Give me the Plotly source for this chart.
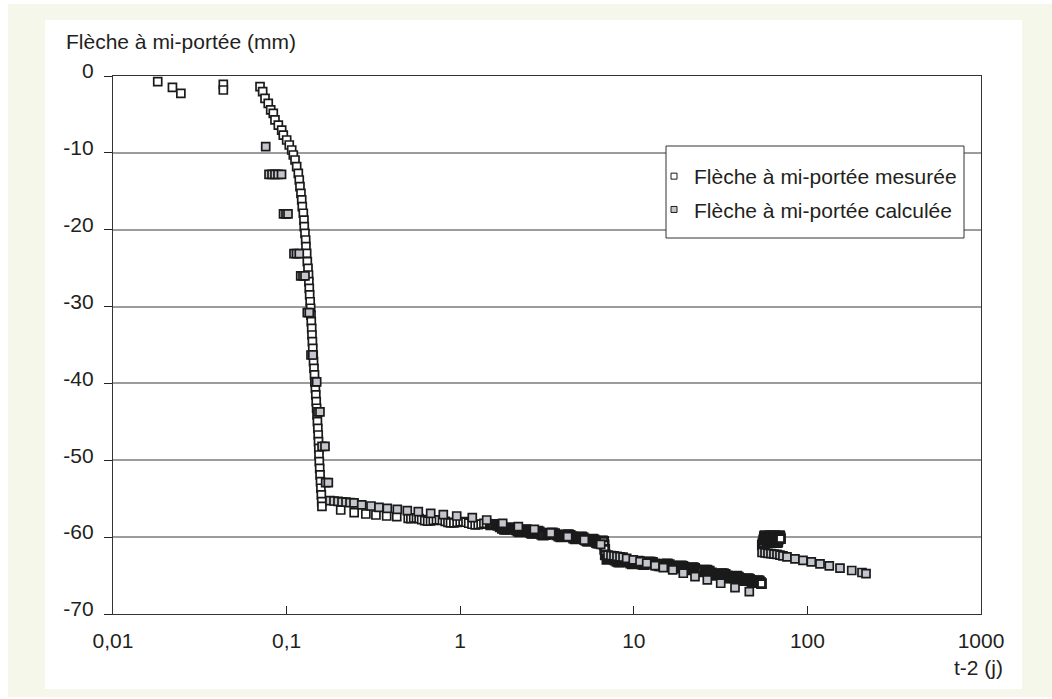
import plotly.graph_objects as go

# ---------------- data ----------------
# x = t-2 (days), y = mid-span deflection (mm)

# measured: first scattered readings
meas_early_x = [0.0181, 0.0220, 0.0246, 0.0432, 0.0432]
meas_early_y = [-0.74, -1.47, -2.25, -1.08, -1.82]

# measured: start of the fast drop
meas_curve_x = [0.0703, 0.0728, 0.0751, 0.0784, 0.0810, 0.0838, 0.0857, 0.0896, 0.0937, 0.0957,
                0.1001, 0.1036, 0.1070, 0.1093, 0.1118, 0.1143, 0.1168, 0.1183, 0.1194, 0.1210,
                0.1222, 0.1231, 0.1248, 0.1259, 0.1264, 0.1276, 0.1288, 0.1293, 0.1305, 0.1316, 0.1328]
meas_curve_y = [-1.39, -2.04, -2.9, -3.55, -4.42, -4.85, -5.72, -6.38, -7.03, -7.68,
                -8.33, -8.98, -9.63, -10.28, -10.93, -11.8, -12.66, -13.53, -14.4, -15.26,
                -16.13, -17.0, -17.86, -18.74, -19.6, -20.47, -21.34, -22.21, -23.07, -24.16, -25.02]

# measured: near-vertical part of the drop
meas_drop_x = [0.1337, 0.1344, 0.1351, 0.1358, 0.1367, 0.1376, 0.1382, 0.1387, 0.1395, 0.1400,
               0.1408, 0.1415, 0.1423, 0.1429, 0.1438, 0.1448, 0.1457, 0.1465, 0.1473, 0.1481,
               0.1489, 0.1497, 0.1505, 0.1513, 0.1521, 0.1527, 0.1533, 0.1537, 0.1543, 0.1551,
               0.1559, 0.1568, 0.1576, 0.1585, 0.1593, 0.1598]
meas_drop_y = [-25.89, -26.76, -27.62, -28.49, -29.37, -30.22, -31.1, -31.97, -32.83, -33.7,
               -34.57, -35.43, -36.3, -37.17, -38.03, -38.9, -39.77, -40.63, -41.5, -42.38,
               -43.23, -44.11, -44.98, -45.84, -46.71, -47.58, -48.44, -49.31, -50.18, -51.04,
               -51.91, -52.78, -53.64, -54.51, -55.39, -56.0]

# measured: creep plateau (isolated squares)
meas_flat_x = [0.205, 0.245, 0.286, 0.327, 0.377, 0.431, 0.502]
meas_flat_y = [-56.47, -56.8, -56.99, -57.12, -57.25, -57.33, -57.55]

# measured: readings between 0.5 and 1.5 days
meas_mid_x = [0.52, 0.54, 0.56, 0.58, 0.6, 0.625, 0.65, 0.675, 0.7, 0.73,
              0.76, 0.79, 0.82, 0.85, 0.88, 0.92, 0.96, 1.0, 1.04, 1.08,
              1.12, 1.17, 1.22, 1.27, 1.32, 1.37, 1.42, 1.48]
meas_mid_y = [-57.60, -57.53, -57.51, -57.59, -57.72, -57.85, -57.92, -57.90, -57.83, -57.76,
              -57.75, -57.82, -57.95, -58.08, -58.15, -58.14, -58.07, -58.00, -57.98, -58.06,
              -58.19, -58.32, -58.40, -58.38, -58.30, -58.22, -58.19, -58.26]

# measured: dense readings 1.5 - 6.85 days (daily oscillation -> thick dark band)
meas_a_x = [1.50, 1.55, 1.60, 1.65, 1.70, 1.75, 1.80, 1.85, 1.90, 1.95,
            2.00, 2.05, 2.10, 2.15, 2.20, 2.25, 2.30, 2.35, 2.40, 2.45,
            2.50, 2.55, 2.60, 2.65, 2.70, 2.75, 2.80, 2.85, 2.90, 2.95,
            3.00, 3.1, 3.2, 3.3, 3.4, 3.5, 3.6, 3.7, 3.8, 3.9,
            4.0, 4.1, 4.2, 4.3, 4.4, 4.5, 4.6, 4.7, 4.8, 4.9,
            5.0, 5.1, 5.2, 5.3, 5.4, 5.5, 5.6, 5.7, 5.8, 5.9,
            6.0, 6.1, 6.2, 6.3, 6.4, 6.5, 6.6, 6.7, 6.75, 6.8,
            6.85]
meas_a_y = [-58.40, -58.33, -58.35, -58.46, -58.65, -58.84, -58.97, -58.98, -58.90, -58.80,
            -58.79, -58.89, -59.06, -59.23, -59.32, -59.29, -59.17, -59.06, -59.02, -59.11,
            -59.27, -59.44, -59.52, -59.49, -59.37, -59.26, -59.22, -59.31, -59.47, -59.64,
            -59.72, -59.68, -59.58, -59.47, -59.44, -59.54, -59.71, -59.87, -59.96, -59.93,
            -59.81, -59.70, -59.67, -59.77, -59.95, -60.12, -60.22, -60.20, -60.09, -59.99,
            -59.97, -60.07, -60.25, -60.43, -60.53, -60.50, -60.40, -60.29, -60.27, -60.36,
            -60.53, -60.70, -60.79, -60.76, -60.64, -60.52, -60.48, -60.56, -61.00, -61.60,
            -62.30]

# measured: dense readings 7 - 24 days
meas_b_x = [7.0, 7.2, 7.4, 7.6, 7.8, 8.0, 8.2, 8.4, 8.6, 8.8,
            9.0, 9.2, 9.4, 9.6, 9.8, 10.0, 10.2, 10.4, 10.6, 10.8,
            11.0, 11.2, 11.4, 11.6, 11.8, 12.0, 12.4, 12.8, 13.2, 13.6,
            14.0, 14.4, 14.8, 15.2, 15.6, 16.0, 16.4, 16.8, 17.2, 17.6,
            18.0, 18.4, 18.8, 19.2, 19.6, 20.0, 20.4, 20.8, 21.2, 21.6,
            22.0, 22.4, 22.8, 23.2, 23.6, 24.0]
meas_b_y = [-62.90, -62.79, -62.75, -62.84, -63.00, -63.16, -63.25, -63.23, -63.12, -63.01,
            -62.98, -63.06, -63.22, -63.38, -63.46, -63.42, -63.29, -63.17, -63.12, -63.20,
            -63.35, -63.50, -63.57, -63.52, -63.39, -63.25, -63.22, -63.30, -63.47, -63.65,
            -63.75, -63.73, -63.62, -63.52, -63.49, -63.58, -63.75, -63.92, -64.01, -63.98,
            -63.87, -63.76, -63.73, -63.82, -63.99, -64.16, -64.25, -64.22, -64.11, -64.00,
            -63.98, -64.07, -64.25, -64.42, -64.51, -64.48]

# measured: dense readings 24.8 - 54.4 days
meas_c_x = [24.8, 25.6, 26.4, 27.2, 28.0, 28.8, 29.6, 30.4, 31.2, 32.0,
            32.8, 33.6, 34.4, 35.2, 36.0, 36.8, 37.6, 38.4, 39.2, 40.0,
            40.8, 41.6, 42.4, 43.2, 44.0, 44.8, 45.6, 46.4, 47.2, 48.0,
            48.8, 49.6, 50.4, 51.2, 52.0, 52.8, 53.6, 54.4]
meas_c_y = [-64.40, -64.31, -64.31, -64.43, -64.64, -64.83, -64.94, -64.93, -64.84, -64.75,
            -64.75, -64.85, -65.03, -65.22, -65.32, -65.30, -65.20, -65.11, -65.09, -65.19,
            -65.37, -65.55, -65.65, -65.63, -65.53, -65.43, -65.40, -65.49, -65.67, -65.84,
            -65.93, -65.90, -65.79, -65.68, -65.65, -65.73, -65.90, -66.06]

# measured: after unloading (55 - 70 days)
meas_unl_x = [55.0, 55.5, 56.0, 56.5, 57.0, 57.5, 58.0, 58.5, 59.0, 59.5,
              60.0, 60.5, 61.0, 61.5, 62.0, 62.5, 63.0, 63.5, 64.0, 64.5,
              65.0, 65.5, 66.0, 66.5, 67.0, 67.5, 68.0, 68.5, 69.0, 69.5, 70.0]
meas_unl_y = [-61.00, -60.75, -60.35, -59.93, -59.80, -59.93, -60.25, -60.57, -60.70, -60.57,
              -60.25, -59.93, -59.80, -59.93, -60.25, -60.57, -60.70, -60.57, -60.25, -59.93,
              -59.80, -59.93, -60.25, -60.57, -60.70, -60.57, -60.25, -59.93, -59.80, -59.93, -60.20]

# computed deflection
calc_x = [0.0758,
          0.0792, 0.0824, 0.0857, 0.0892, 0.0935,
          0.0960, 0.0992, 0.1019,
          0.1103, 0.1140, 0.1183,
          0.1206, 0.1243, 0.1276,
          0.1316, 0.1351,
          0.1382, 0.1416,
          0.1457, 0.1490,
          0.1517, 0.1557,
          0.1600, 0.1664,
          0.1679, 0.1739,
          0.1778, 0.1875, 0.1977, 0.2085, 0.2199, 0.2319, 0.2445,
          0.2708, 0.3063, 0.3405, 0.3803, 0.4342, 0.4958, 0.5736, 0.6762, 0.7992, 0.9546,
          1.174, 1.421, 1.757, 2.162, 2.673, 3.322, 4.161, 5.187, 6.447,
          7.10, 7.39, 7.69, 8.00, 8.33, 8.67, 9.10, 9.93, 10.86, 11.87,
          13.25, 14.79, 16.76, 19.28, 22.52, 26.51, 31.67, 38.28, 46.27,
          54.8, 57.0, 59.3, 61.7, 64.2, 66.8, 69.5, 72.3, 76.3, 84.8,
          94.3, 105.3, 118.2, 133.7, 154.1, 180.0, 206.3, 217.6]
calc_y = [-9.2,
          -12.8, -12.8, -12.8, -12.8, -12.8,
          -17.95, -17.95, -17.95,
          -23.1, -23.1, -23.1,
          -26.0, -26.0, -26.0,
          -30.8, -30.8,
          -36.3, -36.3,
          -39.8, -39.8,
          -43.7, -43.7,
          -48.2, -48.2,
          -52.9, -52.9,
          -55.25, -55.3, -55.35, -55.4, -55.45, -55.5, -55.55,
          -55.81, -55.95, -56.12, -56.25, -56.38, -56.56, -56.69, -56.9, -57.08, -57.25,
          -57.47, -57.77, -58.2, -58.64, -58.98, -59.46, -59.94, -60.37, -60.93,
          -62.35, -62.4, -62.45, -62.5, -62.55, -62.6, -62.75, -62.97, -63.19, -63.4,
          -63.71, -63.97, -64.27, -64.7, -65.14, -65.57, -66.0, -66.58, -67.1,
          -62.0, -62.05, -62.1, -62.15, -62.2, -62.25, -62.35, -62.45, -62.58, -62.82,
          -63.02, -63.23, -63.47, -63.73, -64.03, -64.34, -64.6, -64.75]

x_tickvals = [0.01, 0.1, 1, 10, 100, 1000]
x_ticktext = ["0,01", "0,1", "1", "10", "100", "1000"]
y_tickvals = [0, -10, -20, -30, -40, -50, -60, -70]
y_ticktext = ["0", "-10", "-20", "-30", "-40", "-50", "-60", "-70"]

name_meas = "Flèche à mi-portée mesurée"
name_calc = "Flèche à mi-portée calculée"
y_title = "Flèche à mi-portée (mm)"
x_title = "t-2 (j)"

# ---------------- figure ----------------
# sparse readings (individual squares visible) and dense readings (merge into a dark band)
sparse_x = meas_early_x + meas_curve_x + meas_drop_x + meas_flat_x + meas_mid_x
sparse_y = meas_early_y + meas_curve_y + meas_drop_y + meas_flat_y + meas_mid_y
dense_x = meas_a_x + meas_b_x + meas_c_x + meas_unl_x
dense_y = meas_a_y + meas_b_y + meas_c_y + meas_unl_y
assert len(sparse_x) == len(sparse_y)
assert len(dense_x) == len(dense_y)
assert len(calc_x) == len(calc_y)

W, H = 1052, 699
PL, PR, PT, PB = 113, 981, 76, 614   # plot area in pixels


def fx(px):
    return (px - PL) / (PR - PL)


def fy(py):
    return (PB - py) / (PB - PT)


FONT = "Liberation Sans, Arial, Helvetica, sans-serif"
TXT = "#231f20"
EDGE = "#1a1a1a"
GREY = "#c3c6cc"
FS = 21

fig = go.Figure()
fig.add_trace(go.Scatter(
    x=sparse_x, y=sparse_y, mode="markers", name=name_meas, showlegend=False,
    marker=dict(symbol="square", size=8, color="white", line=dict(color=EDGE, width=1.7))))
fig.add_trace(go.Scatter(
    x=dense_x, y=dense_y, mode="markers", name=name_meas, showlegend=False,
    marker=dict(symbol="square", size=8, color="white", line=dict(color=EDGE, width=2.8))))
fig.add_trace(go.Scatter(
    x=calc_x, y=calc_y, mode="markers", name=name_calc, showlegend=False,
    marker=dict(symbol="square", size=8, color=GREY, line=dict(color=EDGE, width=1.7))))
# legend keys (small squares as in the reference)
fig.add_trace(go.Scatter(
    x=[None], y=[None], mode="markers", name=name_meas, legendgroup="m",
    marker=dict(symbol="square", size=6, color="white", line=dict(color=EDGE, width=1))))
fig.add_trace(go.Scatter(
    x=[None], y=[None], mode="markers", name=name_calc, legendgroup="c",
    marker=dict(symbol="square", size=6, color=GREY, line=dict(color=EDGE, width=1))))

fig.update_layout(
    width=W, height=H,
    margin=dict(l=PL, r=W - PR, t=PT, b=H - PB, pad=0),
    paper_bgcolor="white", plot_bgcolor="white",
    font=dict(family=FONT, size=FS, color=TXT),
    xaxis=dict(type="log", range=[-2, 3], tickmode="array", tickvals=x_tickvals, ticktext=x_ticktext,
               ticks="inside", ticklen=8, tickwidth=1, tickcolor="#222",
               showgrid=False, zeroline=False, showline=True, linecolor="#333", linewidth=1.3,
               mirror=True, ticklabelstandoff=8, tickfont=dict(size=FS, color=TXT)),
    yaxis=dict(range=[-70, 0], tickmode="array", tickvals=y_tickvals, ticktext=y_ticktext,
               ticks="outside", ticklen=8, tickwidth=1, tickcolor="#222",
               showgrid=True, gridcolor="#9c9c9c", gridwidth=1.5, zeroline=False,
               showline=True, linecolor="#333", linewidth=1.3, mirror=True,
               ticklabelstandoff=6, ticklabelshift=-5, tickfont=dict(size=FS, color=TXT)),
    legend=dict(x=fx(654), y=fy(156), xanchor="left", yanchor="top", bgcolor="rgba(0,0,0,0)",
                borderwidth=0, font=dict(size=FS, color=TXT), tracegroupgap=3, itemwidth=30),
    shapes=[
        dict(type="rect", xref="paper", yref="paper", x0=fx(8), x1=fx(1052), y0=fy(697), y1=fy(4),
             fillcolor="#f4f7ea", line=dict(width=0), layer="below"),
        dict(type="rect", xref="paper", yref="paper", x0=fx(45), x1=fx(1022), y0=fy(689), y1=fy(20),
             fillcolor="white", line=dict(width=0), layer="below"),
        # legend frame
        dict(type="rect", xref="paper", yref="paper", x0=fx(666), x1=fx(964), y0=fy(238), y1=fy(146),
             fillcolor="white", line=dict(color="#333", width=1), layer="above"),
    ],
    annotations=[
        dict(text=y_title, xref="paper", yref="paper", x=fx(64), y=fy(42), xanchor="left",
             yanchor="middle", showarrow=False, font=dict(size=FS, color=TXT)),
        dict(text=x_title, xref="paper", yref="paper", x=fx(1005), y=fy(667), xanchor="right",
             yanchor="middle", showarrow=False, font=dict(size=FS, color=TXT)),
    ],
)

fig.write_html("out.html", config={"displayModeBar": False},
               post_script="document.body.style.margin='0';document.body.style.overflow='hidden';")
